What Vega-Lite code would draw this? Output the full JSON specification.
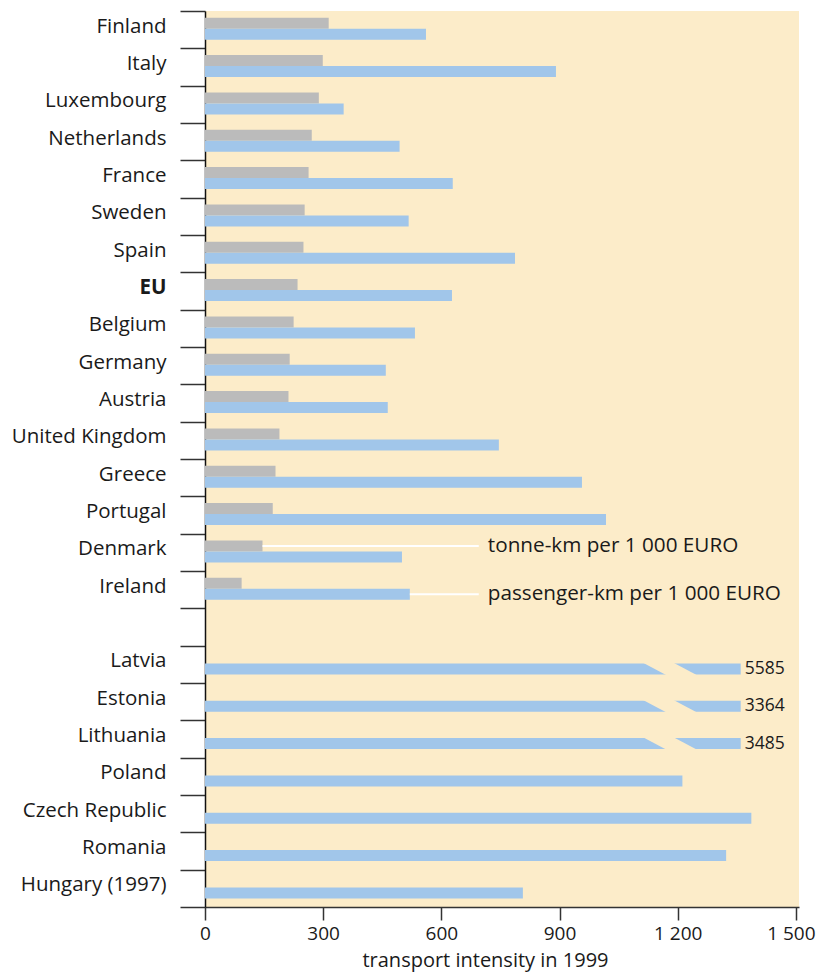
{
  "$schema": "https://vega.github.io/schema/vega-lite/v6.json",
  "width": 594,
  "height": 896,
  "autosize": "none",
  "padding": {"left": 205, "top": 11, "right": 18, "bottom": 66},
  "background": "white",
  "config": {
    "view": {"fill": "#FCECC9", "stroke": null},
    "font": "Open Sans",
    "text": {"font": "Open Sans"}
  },
  "datasets": {
    "bars": [
      {"country": "Finland", "series": "tonne-km", "value": 314},
      {"country": "Finland", "series": "passenger-km", "value": 561},
      {"country": "Italy", "series": "tonne-km", "value": 299},
      {"country": "Italy", "series": "passenger-km", "value": 891},
      {"country": "Luxembourg", "series": "tonne-km", "value": 289},
      {"country": "Luxembourg", "series": "passenger-km", "value": 352},
      {"country": "Netherlands", "series": "tonne-km", "value": 271},
      {"country": "Netherlands", "series": "passenger-km", "value": 494},
      {"country": "France", "series": "tonne-km", "value": 263},
      {"country": "France", "series": "passenger-km", "value": 629},
      {"country": "Sweden", "series": "tonne-km", "value": 253},
      {"country": "Sweden", "series": "passenger-km", "value": 517},
      {"country": "Spain", "series": "tonne-km", "value": 250},
      {"country": "Spain", "series": "passenger-km", "value": 787},
      {"country": "EU", "series": "tonne-km", "value": 235},
      {"country": "EU", "series": "passenger-km", "value": 627},
      {"country": "Belgium", "series": "tonne-km", "value": 225},
      {"country": "Belgium", "series": "passenger-km", "value": 533},
      {"country": "Germany", "series": "tonne-km", "value": 215},
      {"country": "Germany", "series": "passenger-km", "value": 459},
      {"country": "Austria", "series": "tonne-km", "value": 212},
      {"country": "Austria", "series": "passenger-km", "value": 464},
      {"country": "United Kingdom", "series": "tonne-km", "value": 189},
      {"country": "United Kingdom", "series": "passenger-km", "value": 746},
      {"country": "Greece", "series": "tonne-km", "value": 179},
      {"country": "Greece", "series": "passenger-km", "value": 957},
      {"country": "Portugal", "series": "tonne-km", "value": 172},
      {"country": "Portugal", "series": "passenger-km", "value": 1018},
      {"country": "Denmark", "series": "tonne-km", "value": 146},
      {"country": "Denmark", "series": "passenger-km", "value": 500},
      {"country": "Ireland", "series": "tonne-km", "value": 93},
      {"country": "Ireland", "series": "passenger-km", "value": 520},
      {"country": "Latvia", "series": "passenger-km", "value": 5585},
      {"country": "Estonia", "series": "passenger-km", "value": 3364},
      {"country": "Lithuania", "series": "passenger-km", "value": 3485},
      {"country": "Poland", "series": "passenger-km", "value": 1212},
      {"country": "Czech Republic", "series": "passenger-km", "value": 1387},
      {"country": "Romania", "series": "passenger-km", "value": 1323},
      {"country": "Hungary (1997)", "series": "passenger-km", "value": 807}
    ],
    "notes": [
      {"country": "Denmark", "series": "tonne-km", "value": 146, "note": "tonne-km per 1 000 EURO"},
      {"country": "Ireland", "series": "passenger-km", "value": 520, "note": "passenger-km per 1 000 EURO"}
    ]
  },
  "data": {"name": "bars"},
  "encoding": {
    "y": {
      "field": "country",
      "type": "nominal",
      "scale": {
        "domain": ["Finland", "Italy", "Luxembourg", "Netherlands", "France", "Sweden", "Spain", "EU", "Belgium", "Germany", "Austria", "United Kingdom", "Greece", "Portugal", "Denmark", "Ireland", " ", "Latvia", "Estonia", "Lithuania", "Poland", "Czech Republic", "Romania", "Hungary (1997)"],
        "paddingInner": 0,
        "paddingOuter": 0
      },
      "axis": {
        "title": null,
        "tickBand": "extent",
        "tickSize": 25,
        "tickWidth": 1.5,
        "tickColor": "#333333",
        "domainColor": "#111111",
        "domainWidth": 1.5,
        "labelPadding": 14,
        "labelFontSize": 20.5,
        "labelColor": "#1a1a1a",
        "labelOffset": -3.5,
        "labelFontWeight": {"condition": {"test": "datum.value === 'EU'", "value": "bold"}, "value": "normal"},
        "grid": false
      }
    },
    "yOffset": {
      "field": "series",
      "type": "nominal",
      "scale": {"domain": ["tonne-km", "passenger-km"], "paddingInner": 0, "paddingOuter": 0.7, "align": 0.44}
    }
  },
  "layer": [
    {
      "transform": [{"filter": "datum.value <= 1500"}],
      "mark": {"type": "bar", "cornerRadius": 0},
      "encoding": {
        "x": {
          "field": "value",
          "type": "quantitative",
          "title": "transport intensity in 1999",
          "scale": {"domain": [0, 1508], "nice": false, "zero": true},
          "axis": {
            "values": [0, 300, 600, 900, 1200, 1500],
            "labelExpr": "replace(format(datum.value, ','), ',', ' ')",
            "title": "transport intensity in 1999",
            "titleFontSize": 20,
            "titleFontWeight": "normal",
            "titleColor": "#1a1a1a",
            "titlePadding": 7,
            "titleX": 280,
            "titleAlign": "center",
            "tickSize": 13,
            "tickWidth": 1.5,
            "tickColor": "#333333",
            "domainColor": "#333333",
            "domainWidth": 1.5,
            "labelFontSize": 19,
            "labelColor": "#1a1a1a",
            "labelPadding": 4,
            "labelOffset": {"condition": {"test": "datum.value === 1500", "value": -5}, "value": 0},
            "labelFlush": false,
            "grid": false
          }
        },
        "color": {
          "field": "series",
          "type": "nominal",
          "scale": {"domain": ["tonne-km", "passenger-km"], "range": ["#BBBBBB", "#A1C6EA"]},
          "legend": null
        }
      }
    },
    {
      "transform": [{"filter": "datum.value > 1500"}],
      "mark": {"type": "bar", "cornerRadius": 0},
      "encoding": {
        "x": {"datum": 0, "type": "quantitative", "title": "transport intensity in 1999"},
        "x2": {"datum": 1360},
        "color": {
          "field": "series",
          "type": "nominal",
          "scale": {"domain": ["tonne-km", "passenger-km"], "range": ["#BBBBBB", "#A1C6EA"]},
          "legend": null
        }
      }
    },
    {
      "transform": [{"filter": "datum.value > 1500"}],
      "mark": {
        "type": "point",
        "shape": "M-0.94,-0.233L0.077,-0.233L0.957,0.233L-0.06,0.233Z",
        "size": 3600,
        "filled": true,
        "fill": "#FCECC9",
        "strokeWidth": 0,
        "opacity": 1
      },
      "encoding": {
        "x": {"datum": 1180, "type": "quantitative", "title": "transport intensity in 1999"}
      }
    },
    {
      "transform": [{"filter": "datum.value > 1500"}],
      "mark": {"type": "text", "align": "left", "baseline": "middle", "dx": 4, "fontSize": 17.5, "color": "#1a1a1a"},
      "encoding": {
        "x": {"datum": 1360, "type": "quantitative", "title": "transport intensity in 1999"},
        "text": {"field": "value", "type": "quantitative", "format": "d"}
      }
    },
    {
      "data": {"name": "notes"},
      "mark": {"type": "rule", "color": "white", "strokeWidth": 2},
      "encoding": {
        "x": {"field": "value", "type": "quantitative", "title": "transport intensity in 1999"},
        "x2": {"datum": 695}
      }
    },
    {
      "data": {"name": "notes"},
      "mark": {"type": "text", "align": "left", "baseline": "middle", "fontSize": 20.7, "color": "#1a1a1a"},
      "encoding": {
        "x": {"datum": 718, "type": "quantitative", "title": "transport intensity in 1999"},
        "text": {"field": "note", "type": "nominal"}
      }
    }
  ]
}
